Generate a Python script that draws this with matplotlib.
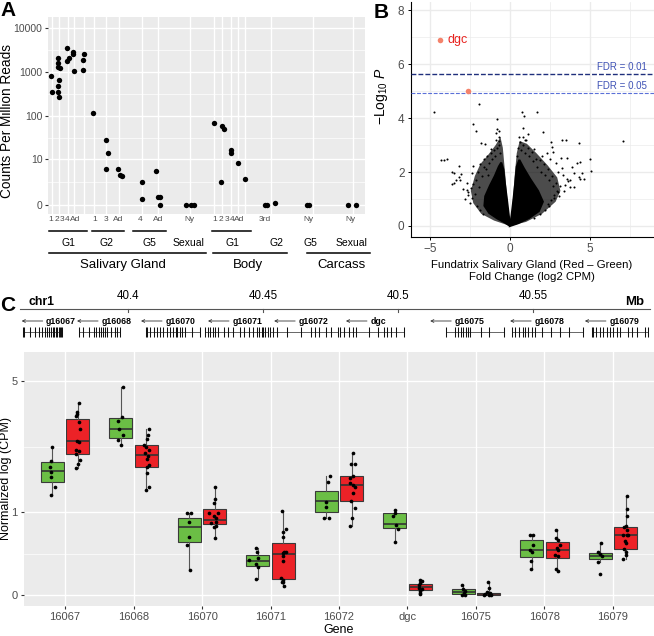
import numpy as np
import matplotlib
matplotlib.use("Agg")
import matplotlib.pyplot as plt
from matplotlib.lines import Line2D

plt.rcParams["font.family"] = ["Liberation Sans", "DejaVu Sans"]
plt.rcParams["mathtext.fontset"] = "custom"
plt.rcParams["mathtext.rm"] = "Liberation Sans"
plt.rcParams["mathtext.it"] = "Liberation Sans:italic"

W, H = 654, 636
BG = "#EBEBEB"
TICK_COL = "#4D4D4D"

# ---------------- Panel A: dgc expression (CPM) per sample ----------------
a_stages = ["1", "2", "3", "4", "Ad", "1", "3", "Ad", "4", "Ad", "Ny",
            "1", "2", "3", "4", "Ad", "3rd", "Ny", "Ny"]
a_cpm = [
    [800, 350],
    [2130, 1580, 1330, 1250, 660, 490, 350, 278],
    [3470, 1780, 2130],
    [2880, 2500, 1070],
    [2560, 1870, 1100],
    [120],
    [29, 14, 5.6],
    [5.4, 3.7, 3.5],
    [2.3, 0.35],
    [4.8, 0.55, 0.5, 0],
    [0, 0, 0],
    [71],
    [61, 51, 2.3],
    [16.5, 13.7],
    [8.0],
    [2.9],
    [0, 0, 0.1],
    [0, 0],
    [0, 0],
]
# horizontal jitter of each point (pixels)
a_jitter = [
    [-0.5, 0.8],
    [-0.7, -0.7, -0.7, 1.0, 0, -1.0, -1.0, 0.3],
    [-0.8, -0.8, 1.5],
    [-0.7, -0.7, -0.3],
    [0.5, -0.5, -0.2],
    [-0.2],
    [0, 1.7, -0.3],
    [-0.7, 0.5, 3.3],
    [0.3, 0.3],
    [-2.0, -0.3, 1.5, 2.0],
    [-4.3, 0.7, 3.7],
    [0.3],
    [-0.5, 1.3, -1.3],
    [0, 0.3],
    [-0.3],
    [-0.3],
    [-6, -4.3, 4],
    [-5.3, -3.7],
    [-5, 2.4],
]
a_slot_x = [51.5, 59, 67.5, 74, 83.5, 93.5, 106, 119, 142, 158, 190,
            214, 222.3, 230.7, 238.3, 245, 271, 312.7, 353.3]
a_label_x = [50.7, 56.7, 62, 67.2, 75, 94.7, 106, 118.3, 140, 158.3, 189,
             215, 220.7, 226.7, 232.3, 239.3, 265, 308.3, 350]
a_gens = ["G1", "G2", "G5", "Sexual", "G1", "G2", "G5", "Sexual"]
a_gen_x = [68.3, 106, 149.3, 188.3, 232.7, 276, 310, 351.7]
a_gen_lines = [(49.3, 87.3), (92.3, 124.3), (133.3, 165.7), None,
               (212.3, 250.7), None, None, None]
a_tissues = ["Salivary Gland", "Body", "Carcass"]
a_tissue_x = [123, 248, 342]
a_tissue_lines = [(49.3, 206), (212.7, 287.3), (307.3, 370)]

# ---------------- Panel B: volcano plot ----------------
# dense core of the cloud (log2 FC, -log10 P)
b_core_l_x = [0, -0.3, -0.8, -1.3, -1.6, -1.55, -1.25, -0.95, -0.7, -0.55, -0.42, -0.33, -0.2, -0.08]
b_core_l_y = [0, 0.12, 0.28, 0.48, 0.75, 1.1, 1.5, 1.85, 2.2, 2.35, 2.1, 1.6, 1.0, 0.4]
b_core_r_x = [0, 0.1, 0.22, 0.33, 0.42, 0.58, 0.85, 1.25, 1.75, 2.05, 1.8, 1.2, 0.5]
b_core_r_y = [0, 0.4, 1.0, 1.6, 2.2, 2.45, 2.15, 1.75, 1.3, 0.9, 0.55, 0.3, 0.1]
b_halo_l_x = [0, -1.0, -1.8, -2.3, -2.45, -2.2, -1.85, -1.35, -0.9, -0.6, -0.45, -0.3, -0.1]
b_halo_l_y = [0, 0.2, 0.45, 0.85, 1.3, 1.85, 2.3, 2.65, 3.0, 3.3, 2.9, 1.9, 0.5]
b_halo_r_x = [0, 0.12, 0.28, 0.42, 0.6, 1.05, 1.65, 2.35, 2.95, 3.15, 2.85, 2.0, 1.0]
b_halo_r_y = [0, 0.5, 1.8, 2.7, 3.15, 3.05, 2.7, 2.25, 1.8, 1.3, 0.9, 0.45, 0.15]
b_fc = [-4.73, -1.96, -2.29, -2.125, -0.79, -0.83, -0.67, -0.85, -1.83, -1.56, -1.21,
        -0.71, -0.69, 0.73, 0.875, 1.67, 0.83, 1.125, 2.04, 0.83, 0.94, 2.54, 3.23,
        3.5, 4.33, 7.06, 5.0, 5.04, -4.3, -4.1, -3.92, -3.21, -3.6, -3.5, -3.08,
        -3.17, -3.4, -3.65, -3.15, -3.5, -2.92, -2.71, -2.6, -2.4, -2.34, 4.375,
        4.48, 4.0, 4.35, 4.6, 4.0, 3.54, 3.44, 3.75, 3.54, 3.19, 3.27, 2.9, 2.6,
        2.71, 2.29, 2.98, 2.77, 2.44, 4.2, 3.75, 4.3,
        -2.6, -2.45, -2.3, -2.2, -2.1, -2.0, -1.95, -1.85, -1.75, -1.6, -1.5, -1.45,
        -1.3, -1.2, -1.1, -1.0, -0.9, -0.95, -2.8, -2.5, -2.35, -2.05, -1.9, -1.7,
        -2.7, -1.65, -1.35, -0.8, -0.72, -0.65,
        0.5, 0.6, 0.7, 0.8, 0.95, 1.1, 1.2, 1.35, 1.45, 1.6, 1.7, 1.85, 1.95, 2.1,
        2.2, 2.35, 2.45, 2.6, 2.7, 2.85, 2.95, 3.05, 3.1, 2.75, 2.55, 2.4, 2.2, 1.9,
        1.5, 3.3, 3.0, 2.5, 2.0, 1.5, 1.0, 0.55, 0.45, 3.35, 3.6, 3.9]
b_logp = [4.21, 4.51, 3.80, 3.52, 3.96, 3.59, 3.53, 3.46, 3.09, 3.04, 2.85,
          3.15, 3.00, 4.21, 4.07, 4.23, 3.65, 3.40, 3.47, 3.31, 3.18, 3.12, 3.18,
          3.18, 3.06, 3.16, 2.50, 2.05, 2.44, 2.44, 2.47, 2.21, 2.01, 1.95, 1.93,
          1.80, 1.70, 1.54, 1.72, 1.60, 1.36, 1.33, 1.15, 1.95, 2.23, 2.38,
          1.98, 1.98, 1.76, 1.73, 1.46, 1.76, 1.52, 1.43, 2.51, 2.51, 2.14, 2.32, 2.94,
          2.75, 2.69, 1.27, 1.02, 0.75, 2.32, 1.72, 1.8,
          1.25, 1.4, 1.55, 1.2, 1.7, 2.0, 1.45, 2.3, 1.85, 2.5, 2.1, 2.6,
          2.35, 2.7, 2.5, 2.8, 3.2, 2.6, 1.0, 0.85, 1.05, 0.75, 0.6, 0.45,
          1.6, 2.2, 1.9, 2.9, 3.3, 2.7,
          2.9, 3.1, 2.8, 3.0, 2.7, 2.9, 2.6, 2.75, 2.4, 2.5, 2.2, 2.45, 2.0, 2.3,
          1.9, 2.1, 1.7, 1.85, 1.5, 1.6, 1.3, 1.1, 1.5, 1.15, 0.95, 0.8, 0.6, 0.45,
          0.3, 1.9, 2.0, 2.5, 2.6, 2.85, 3.2, 3.3, 2.6, 1.3, 1.65, 2.2]
b_sig_fc = [-4.375, -2.64]
b_sig_logp = [6.89, 4.99]
b_fdr = [5.65, 4.94]
b_fdr_labels = ["FDR = 0.01", "FDR = 0.05"]

# ---------------- Panel C: gene models and boxplots ----------------
c_gene_names = ["g16067", "g16068", "g16070", "g16071", "g16072", "dgc",
                "g16075", "g16078", "g16079"]
c_gene_start = [40.3610, 40.3817, 40.4066, 40.4284, 40.4525, 40.4784, 40.5177, 40.5421, 40.5717]
c_gene_end = [40.3754, 40.3969, 40.4266, 40.4517, 40.4777, 40.5021, 40.5391, 40.5684, 40.5925]
c_label_start = [40.3605, 40.3810, 40.4047, 40.4295, 40.4540, 40.4806, 40.5118, 40.5414, 40.5691]
c_exons = [
    [0, 0.02, 0.17, 0.3, 0.42, 0.5, 0.56, 0.62, 0.67, 0.72, 0.76, 0.8, 0.84, 0.88, 0.92, 0.95, 0.98, 1.0],
    [0, 0.1, 0.24, 0.36, 0.42, 0.48, 0.53, 0.58, 0.63, 0.68, 0.78, 0.88, 0.94, 1.0],
    [0, 0.015, 0.08, 0.14, 0.2, 0.26, 0.32, 0.38, 0.44, 0.5, 0.55, 0.58, 0.62, 0.66, 0.72, 0.85, 1.0],
    [0, 0.04, 0.08, 0.12, 0.16, 0.2, 0.3, 0.36, 0.44, 0.55, 0.62, 0.7, 0.76, 0.82, 0.86, 0.9, 0.93, 0.96, 1.0],
    [0, 0.05, 0.1, 0.25, 0.45, 0.6, 0.66, 0.72, 0.82, 0.9, 1.0],
    [0, 0.06, 0.14, 0.2, 0.25, 0.45, 0.6, 0.68, 0.74, 0.8, 0.87, 1.0],
    [0, 0.15, 0.2, 0.25, 0.3, 0.34, 0.38, 0.42, 0.6, 0.75, 1.0],
    [0, 0.04, 0.1, 0.15, 0.18, 0.22, 0.28, 0.33, 0.42, 0.55, 0.68, 0.8, 1.0],
    [0, 0.02, 0.08, 0.14, 0.2, 0.26, 0.32, 0.38, 0.44, 0.5, 0.65, 0.72, 0.8, 0.95, 1.0],
]
c_mb_ticks = [40.4, 40.45, 40.5, 40.55]

genes = ["16067", "16068", "16070", "16071", "16072", "dgc", "16075", "16078", "16079"]
# box stats on the log1p axis: (whisker low, q1, median, q3, whisker high)
green_box = [(0.838, 0.945, 1.042, 1.112, 1.243), (1.257, 1.313, 1.389, 1.481, 1.741),
             (0.210, 0.447, 0.573, 0.648, 0.690), (0.131, 0.243, 0.285, 0.335, 0.397),
             (0.648, 0.693, 0.788, 0.872, 0.997), (0.442, 0.564, 0.593, 0.685, 0.712),
             (0.0, 0.011, 0.025, 0.048, 0.084), (0.218, 0.316, 0.377, 0.461, 0.503),
             (0.274, 0.299, 0.327, 0.352, 0.438)]
red_box = [(1.062, 1.182, 1.291, 1.475, 1.612), (0.880, 1.075, 1.174, 1.257, 1.389),
           (0.480, 0.595, 0.626, 0.718, 0.908), (0.064, 0.134, 0.341, 0.433, 0.704),
           (0.581, 0.790, 0.922, 0.997, 1.193), (0.006, 0.042, 0.065, 0.090, 0.126),
           (0.0, 0.0, 0.008, 0.017, 0.106), (0.195, 0.313, 0.377, 0.442, 0.545),
           (0.299, 0.386, 0.503, 0.573, 0.832)]
green_vals = [[1.243, 1.123, 1.070, 1.034, 0.987, 0.903, 0.838],
              [1.741, 1.495, 1.461, 1.389, 1.341, 1.299, 1.257],
              [0.685, 0.685, 0.614, 0.484, 0.417, 0.210],
              [0.397, 0.358, 0.307, 0.290, 0.260, 0.232, 0.131],
              [0.997, 0.950, 0.782, 0.740, 0.643, 0.648],
              [0.712, 0.685, 0.665, 0.587, 0.551, 0.442],
              [0.084, 0.048, 0.036, 0.014, 0.0, 0.0],
              [0.503, 0.503, 0.419, 0.377, 0.358, 0.288, 0.218],
              [0.438, 0.363, 0.344, 0.327, 0.274, 0.176]]
green_jit = [[0, -0.02, -0.034, -0.024, -0.02, 0.039, -0.02],
             [0.029, 0.015, -0.034, -0.02, 0.039, -0.034, 0],
             [-0.034, 0.024, 0, 0, -0.034, 0.015],
             [-0.024, -0.015, 0.01, -0.12, -0.024, 0, -0.024],
             [0.049, 0.024, 0, 0, -0.034, 0.039],
             [0.01, 0, -0.024, 0.024, 0.049, 0.01],
             [-0.01, 0, 0.034, 0.01, -0.01, 0.024],
             [-0.024, 0.024, 0.024, -0.024, 0.01, -0.01, -0.015],
             [0.015, -0.034, 0, 0.024, -0.024, 0]]
red_vals = [[1.612, 1.537, 1.517, 1.500, 1.453, 1.391, 1.293, 1.280, 1.215, 1.207, 1.182, 1.132, 1.098, 1.062],
            [1.389, 1.341, 1.305, 1.257, 1.243, 1.215, 1.187, 1.165, 1.137, 1.090, 1.070, 1.020, 0.908, 0.880],
            [0.908, 0.802, 0.769, 0.685, 0.685, 0.662, 0.643, 0.614, 0.600, 0.581, 0.567, 0.480],
            [0.704, 0.553, 0.531, 0.489, 0.363, 0.349, 0.358, 0.329, 0.288, 0.140, 0.126, 0.106, 0.078, 0.110],
            [1.193, 1.095, 1.095, 0.997, 0.936, 0.922, 0.908, 0.978, 0.858, 0.790, 0.727, 0.643, 0.581],
            [0.126, 0.117, 0.098, 0.084, 0.061, 0.048, 0.036, 0.014, 0.005],
            [0.106, 0.061, 0.028, 0.020, 0.008, 0.0, 0.0, 0.004],
            [0.545, 0.475, 0.461, 0.419, 0.391, 0.377, 0.335, 0.327, 0.215, 0.201],
            [0.832, 0.718, 0.662, 0.578, 0.567, 0.545, 0.503, 0.503, 0.503, 0.453, 0.433, 0.383, 0.363, 0.335, 0.299]]
red_jit = [[0.01, -0.015, -0.015, -0.024, 0.01, 0.024, -0.015, 0.015, -0.034, 0.01, -0.034, 0.024, 0, -0.034],
           [0.034, 0.02, 0.01, -0.03, 0, 0.034, -0.024, 0.02, 0.01, 0.044, 0.01, 0.01, 0.044, 0],
           [0, 0, -0.015, -0.088, 0.044, -0.015, 0.02, 0.02, -0.054, 0.01, -0.015, 0],
           [-0.015, 0.034, -0.01, -0.01, 0.01, -0.01, 0.034, 0, -0.01, -0.034, 0, -0.01, 0.015, -0.024],
           [0.01, -0.01, 0.039, 0.01, -0.024, 0.024, 0.039, -0.034, 0.01, -0.01, 0.039, 0, -0.034],
           [-0.01, 0.024, 0, -0.015, -0.024, 0.024, 0, -0.01, 0],
           [-0.015, 0, -0.024, 0.024, -0.049, 0, 0.034, -0.073],
           [-0.024, -0.015, 0.015, 0.039, -0.01, 0.01, -0.034, 0.01, -0.024, 0.01],
           [0.015, 0.024, 0.024, 0, -0.024, 0.015, -0.034, 0.015, 0.034, -0.015, 0, -0.024, 0.01, 0, -0.034]]
c_yticks = [0, 1, 5]

GREEN = "#6BBE45"
RED = "#EC2227"


def px_axes(fig, left, top, right, bottom):
    return fig.add_axes([left / W, 1 - bottom / H, (right - left) / W, (bottom - top) / H])


def ftext(fig, x, y, s, **kw):
    fig.text(x / W, 1 - y / H, s, **kw)


def fline(fig, x0, x1, y, lw=1.1):
    fig.add_artist(Line2D([x0 / W, x1 / W], [1 - y / H, 1 - y / H],
                          color="black", lw=lw, transform=fig.transFigure))


fig = plt.figure(figsize=(W / 100, H / 100), dpi=100)

# ================= Panel A =================
axA = px_axes(fig, 48, 17, 365, 214)
axA.set_facecolor(BG)
axA.set_yscale("function", functions=(lambda v: np.log10(np.clip(1 + v, 1e-9, None)),
                                      lambda t: 10 ** t - 1))
axA.set_xlim(48, 365)
axA.set_ylim(-0.373, 17540)
axA.set_yticks([0, 10, 100, 1000, 10000])
axA.set_yticklabels(["0", "10", "100", "1000", "10000"])
axA.set_yticks([2.3, 32, 315, 3161], minor=True)
axA.set_xticks(a_slot_x)
axA.set_xticklabels([])
axA.tick_params(axis="x", length=0)
axA.tick_params(axis="y", which="major", length=2.5, color="#333333",
                labelsize=7.5, labelcolor=TICK_COL, pad=1.5)
axA.tick_params(axis="y", which="minor", length=0)
axA.grid(which="major", color="white", lw=1.0)
axA.grid(which="minor", axis="y", color="white", lw=0.5)
axA.set_axisbelow(True)
for s in axA.spines.values():
    s.set_visible(False)
for xs, vals, jit in zip(a_slot_x, a_cpm, a_jitter):
    axA.scatter(np.array(jit) + xs, vals, s=15, color="black", lw=0, zorder=3)
axA.set_ylabel("Counts Per Million Reads", fontsize=9.8)
axA.yaxis.set_label_coords(-0.108, 0.47)

for lx, lab in zip(a_label_x, a_stages):
    ftext(fig, lx, 219.5, lab, fontsize=6, color=TICK_COL, ha="center", va="center")
for gx, lab, ln in zip(a_gen_x, a_gens, a_gen_lines):
    ftext(fig, gx, 243, lab, fontsize=7.5, ha="center", va="center")
    if ln is not None:
        fline(fig, ln[0], ln[1], 230.5)
for tx, lab, ln in zip(a_tissue_x, a_tissues, a_tissue_lines):
    ftext(fig, tx, 265, lab, fontsize=9.5, ha="center", va="center")
    fline(fig, ln[0], ln[1], 253)

# ================= Panel B =================
axB = px_axes(fig, 410.7, 2, 654, 237)
axB.set_xlim(-6.21, 9.0)
axB.set_ylim(-0.41, 8.31)
axB.set_xticks([-5, 0, 5])
axB.set_xticklabels(["\u22125", "0", "5"])
axB.set_yticks([0, 2, 4, 6, 8])
axB.set_xticks([-2.5, 2.5, 7.5], minor=True)
axB.set_yticks([1, 3, 5, 7], minor=True)
axB.grid(which="major", color=BG, lw=1.0)
axB.grid(which="minor", color=BG, lw=0.5)
axB.set_axisbelow(True)
axB.tick_params(which="major", length=2.5, width=0.7, labelsize=8.5, labelcolor=TICK_COL, pad=2)
axB.tick_params(which="minor", length=0)
for side in ["top", "right"]:
    axB.spines[side].set_visible(False)
for side in ["left", "bottom"]:
    axB.spines[side].set_linewidth(0.8)
axB.fill(b_halo_l_x, b_halo_l_y, color="black", alpha=0.7, lw=0, zorder=2)
axB.fill(b_halo_r_x, b_halo_r_y, color="black", alpha=0.7, lw=0, zorder=2)
axB.fill(b_core_l_x, b_core_l_y, color="black", lw=1.5, zorder=2)
axB.fill(b_core_r_x, b_core_r_y, color="black", lw=1.5, zorder=2)
axB.scatter(b_fc, b_logp, s=2.2, color="black", lw=0, zorder=3)
axB.scatter(b_sig_fc, b_sig_logp, s=16, color="#F4836B", lw=0, zorder=4)
axB.text(b_sig_fc[0] + 0.45, b_sig_logp[0], "dgc", color="#E8231F", fontsize=9,
         ha="left", va="center")
axB.axhline(b_fdr[0], color="#1F2F7C", lw=1.0, ls=(0, (3.5, 1.5)), zorder=3)
axB.axhline(b_fdr[1], color="#5B70D8", lw=0.8, ls=(0, (3.5, 1.5)), zorder=3)
for yv, lab in zip(b_fdr, b_fdr_labels):
    axB.text(8.55, yv + 0.08, lab, color="#3F52B5", fontsize=7, ha="right", va="bottom")
axB.set_ylabel(r"$-\mathrm{Log}_{10}\ \mathit{P}$", fontsize=10)
axB.yaxis.set_label_coords(-0.085, 0.6)
ftext(fig, 532, 265, "Fundatrix Salivary Gland (Red \u2013 Green)", fontsize=8.2,
      ha="center", va="center")
ftext(fig, 532, 277, "Fold Change (log2 CPM)", fontsize=8.2, ha="center", va="center")

# ================= Panel C: gene track =================
axT = fig.add_axes([0, 1 - 345 / H, 1, 55 / H])
axT.set_xlim(40.35248, 40.59470)
axT.set_ylim(345, 290)
axT.axis("off")
axT.plot([40.35989, 40.59322], [308.5, 308.5], color="#555555", lw=0.8)
for t in c_mb_ticks:
    axT.plot([t, t], [308.5, 311.5], color="#555555", lw=0.8)
    axT.text(t, 296, f"{t:g}", fontsize=8.3, ha="center", va="center")
axT.text(40.3632, 302, "chr1", fontsize=8.8, fontweight="bold", ha="left", va="center")
axT.text(40.5840, 302, "Mb", fontsize=9.5, fontweight="bold", ha="left", va="center")
for name, g0, g1, lab0, ex in zip(c_gene_names, c_gene_start, c_gene_end,
                                  c_label_start, c_exons):
    axT.plot([g0, g1], [331.5, 331.5], color="#666666", lw=0.7)
    xs = g0 + np.array(ex) * (g1 - g0)
    axT.vlines(xs, 326.5, 336.5, color="#111111", lw=0.75)
    axT.annotate("", xy=(lab0, 321), xytext=(lab0 + 0.0078, 321),
                 arrowprops=dict(arrowstyle="->", lw=0.6, color="#333333",
                                 shrinkA=0, shrinkB=0, mutation_scale=5))
    axT.annotate(name, xy=(lab0, 321), xytext=(17.5, 0), textcoords="offset points",
                 fontsize=6.3, fontweight="bold", ha="left", va="center")

# ================= Panel C: boxplots =================
axC = px_axes(fig, 24, 352, 654, 606)
axC.set_facecolor(BG)
axC.set_xlim(-0.6, len(genes) - 0.4)
axC.set_ylim(-0.092, 2.037)
pos = np.arange(len(genes))
for boxes, vals, jit, off, col in [(green_box, green_vals, green_jit, -0.1875, GREEN),
                                    (red_box, red_vals, red_jit, 0.1875, RED)]:
    stats = [dict(whislo=b[0], q1=b[1], med=b[2], q3=b[3], whishi=b[4], fliers=[])
             for b in boxes]
    axC.bxp(stats, positions=pos + off, widths=0.3375, patch_artist=True,
            showcaps=False, showfliers=False,
            boxprops=dict(facecolor=col, edgecolor="#3A3A3A", lw=0.8),
            medianprops=dict(color="#333333", lw=1.2),
            whiskerprops=dict(color="#555555", lw=0.8), manage_ticks=False, zorder=2)
    for i, (v, j) in enumerate(zip(vals, jit)):
        axC.scatter(i + off + np.array(j), v, s=7, color="black", lw=0, zorder=3)
axC.set_xticks(pos)
axC.set_xticklabels(genes)
axC.set_yticks(np.log1p(c_yticks))
axC.set_yticklabels([str(v) for v in c_yticks])
axC.set_yticks([np.log1p(0.414), np.log1p(2.46)], minor=True)
axC.grid(which="major", color="white", lw=1.0)
axC.grid(which="minor", axis="y", color="white", lw=0.5)
axC.set_axisbelow(True)
axC.tick_params(which="major", length=2.5, color="#333333", labelsize=8,
                labelcolor=TICK_COL, pad=2)
axC.tick_params(which="minor", length=0)
for s in axC.spines.values():
    s.set_visible(False)
ftext(fig, 339, 630, "Gene", fontsize=9, ha="center", va="center")
axC.set_ylabel("Normalized log (CPM)", fontsize=9)
axC.yaxis.set_label_coords(-0.0185, 0.5)

# panel letters
ftext(fig, 8, 11, "A", fontsize=15, fontweight="bold", ha="center", va="center")
ftext(fig, 381, 12, "B", fontsize=15, fontweight="bold", ha="center", va="center")
ftext(fig, 8, 305, "C", fontsize=15, fontweight="bold", ha="center", va="center")

fig.savefig("out.png", dpi=100)
